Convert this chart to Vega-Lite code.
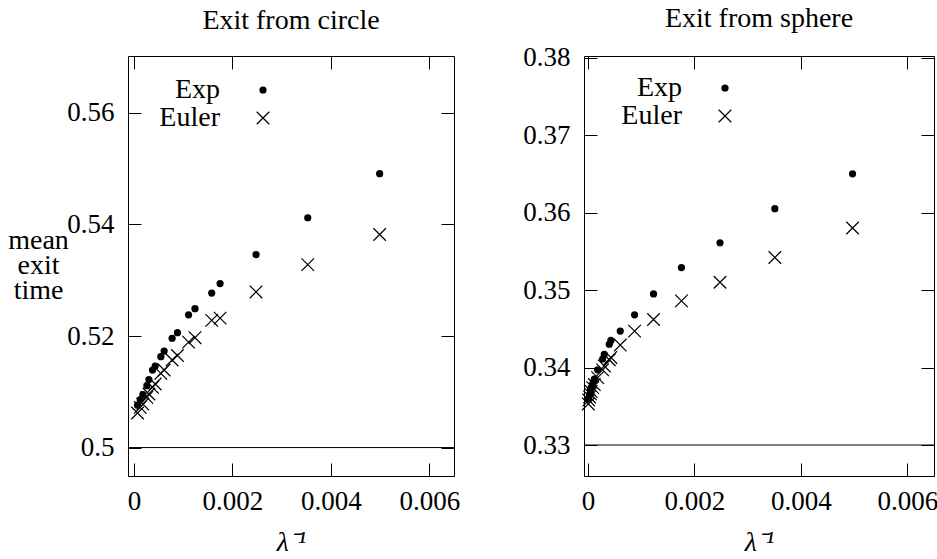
{
  "$schema": "https://vega.github.io/schema/vega-lite/v6.json",
  "background": "white",
  "padding": {"left": 7, "top": 4, "right": 0, "bottom": 0},
  "bounds": "flush",
  "spacing": 130,
  "config": {
    "font": "Liberation Serif",
    "view": {"stroke": "black", "strokeWidth": 1},
    "axis": {
      "domain": false, "grid": false, "ticks": true, "tickSize": -13,
      "tickColor": "black", "tickWidth": 1,
      "labelFont": "Liberation Serif", "labelFontSize": 27, "labelColor": "black",
      "labelPadding": 27,
      "titleFont": "Liberation Serif", "titleFontSize": 28, "titleColor": "black",
      "titleFontWeight": "normal"
    },
    "legend": {
      "orient": "none", "title": null,
      "labelFont": "Liberation Serif", "labelFontSize": 28, "labelColor": "black",
      "labelAlign": "right", "labelOffset": -57,
      "symbolSize": 52, "symbolFillColor": "black", "symbolStrokeWidth": 0,
      "rowPadding": -1, "padding": 0
    },
    "title": {"font": "Liberation Serif", "fontSize": 28, "fontWeight": "normal", "color": "black", "frame": "group"}
  },
  "datasets": {
    "circle": [
      {"x": 0.00499, "t": 0.5491, "method": "Exp"},
      {"x": 0.00353, "t": 0.5412, "method": "Exp"},
      {"x": 0.00248, "t": 0.5346, "method": "Exp"},
      {"x": 0.00175, "t": 0.5294, "method": "Exp"},
      {"x": 0.00158, "t": 0.5277, "method": "Exp"},
      {"x": 0.00124, "t": 0.5249, "method": "Exp"},
      {"x": 0.00111, "t": 0.5238, "method": "Exp"},
      {"x": 0.000884, "t": 0.5206, "method": "Exp"},
      {"x": 0.000776, "t": 0.5196, "method": "Exp"},
      {"x": 0.000614, "t": 0.5173, "method": "Exp"},
      {"x": 0.000547, "t": 0.5163, "method": "Exp"},
      {"x": 0.000432, "t": 0.5146, "method": "Exp"},
      {"x": 0.000378, "t": 0.5139, "method": "Exp"},
      {"x": 0.000304, "t": 0.5122, "method": "Exp"},
      {"x": 0.000263, "t": 0.5111, "method": "Exp"},
      {"x": 0.000182, "t": 0.5095, "method": "Exp"},
      {"x": 0.000128, "t": 0.5086, "method": "Exp"},
      {"x": 0.000074, "t": 0.5076, "method": "Exp"},
      {"x": 0.00499, "t": 0.5382, "method": "Euler"},
      {"x": 0.00353, "t": 0.5328, "method": "Euler"},
      {"x": 0.00248, "t": 0.5279, "method": "Euler"},
      {"x": 0.00175, "t": 0.5232, "method": "Euler"},
      {"x": 0.00158, "t": 0.5228, "method": "Euler"},
      {"x": 0.00124, "t": 0.5197, "method": "Euler"},
      {"x": 0.00111, "t": 0.5189, "method": "Euler"},
      {"x": 0.000884, "t": 0.5165, "method": "Euler"},
      {"x": 0.000776, "t": 0.5157, "method": "Euler"},
      {"x": 0.000614, "t": 0.5139, "method": "Euler"},
      {"x": 0.000547, "t": 0.5133, "method": "Euler"},
      {"x": 0.000432, "t": 0.5114, "method": "Euler"},
      {"x": 0.000378, "t": 0.5108, "method": "Euler"},
      {"x": 0.000304, "t": 0.5096, "method": "Euler"},
      {"x": 0.000263, "t": 0.5090, "method": "Euler"},
      {"x": 0.000182, "t": 0.5078, "method": "Euler"},
      {"x": 0.000128, "t": 0.5072, "method": "Euler"},
      {"x": 0.000074, "t": 0.5062, "method": "Euler"}
    ],
    "sphere": [
      {"x": 0.00497, "t": 0.3650, "method": "Exp"},
      {"x": 0.00351, "t": 0.3605, "method": "Exp"},
      {"x": 0.00248, "t": 0.3561, "method": "Exp"},
      {"x": 0.001756, "t": 0.3529, "method": "Exp"},
      {"x": 0.001231, "t": 0.3495, "method": "Exp"},
      {"x": 0.000875, "t": 0.3468, "method": "Exp"},
      {"x": 0.000606, "t": 0.3447, "method": "Exp"},
      {"x": 0.00043, "t": 0.3435, "method": "Exp"},
      {"x": 0.0004, "t": 0.3430, "method": "Exp"},
      {"x": 0.000306, "t": 0.3417, "method": "Exp"},
      {"x": 0.000275, "t": 0.3411, "method": "Exp"},
      {"x": 0.000181, "t": 0.3397, "method": "Exp"},
      {"x": 0.000119, "t": 0.3385, "method": "Exp"},
      {"x": 0.000088, "t": 0.3379, "method": "Exp"},
      {"x": 0.00006, "t": 0.3374, "method": "Exp"},
      {"x": 0.000044, "t": 0.3370, "method": "Exp"},
      {"x": 0.00003, "t": 0.3365, "method": "Exp"},
      {"x": 0.000015, "t": 0.3361, "method": "Exp"},
      {"x": 0.000006, "t": 0.3359, "method": "Exp"},
      {"x": 0.00497, "t": 0.3580, "method": "Euler"},
      {"x": 0.00351, "t": 0.3542, "method": "Euler"},
      {"x": 0.00248, "t": 0.3510, "method": "Euler"},
      {"x": 0.001756, "t": 0.3486, "method": "Euler"},
      {"x": 0.001231, "t": 0.3462, "method": "Euler"},
      {"x": 0.000875, "t": 0.3447, "method": "Euler"},
      {"x": 0.000606, "t": 0.3429, "method": "Euler"},
      {"x": 0.00043, "t": 0.3413, "method": "Euler"},
      {"x": 0.0004, "t": 0.3410, "method": "Euler"},
      {"x": 0.000306, "t": 0.3402, "method": "Euler"},
      {"x": 0.000275, "t": 0.3397, "method": "Euler"},
      {"x": 0.000181, "t": 0.3387, "method": "Euler"},
      {"x": 0.000119, "t": 0.3378, "method": "Euler"},
      {"x": 0.000088, "t": 0.3374, "method": "Euler"},
      {"x": 0.00006, "t": 0.3369, "method": "Euler"},
      {"x": 0.000044, "t": 0.3366, "method": "Euler"},
      {"x": 0.00003, "t": 0.3362, "method": "Euler"},
      {"x": 0.000015, "t": 0.3358, "method": "Euler"},
      {"x": 0.000006, "t": 0.3353, "method": "Euler"}
    ],
    "circleLimit": [{"limit": 0.5}],
    "sphereLimit": [{"limit": 0.33}]
  },
  "hconcat": [
    {
      "title": {"text": "Exit from circle", "offset": 21},
      "width": 326,
      "height": 420,
      "layer": [
        {
          "data": {"name": "circleLimit"},
          "mark": {"type": "rule", "color": "black", "strokeWidth": 1},
          "encoding": {
            "x": {"datum": -0.00012, "type": "quantitative", "axis": {"orient": "top", "labels": false, "title": null, "values": [0, 0.002, 0.004, 0.006]}},
            "x2": {"datum": 0.0065},
            "y": {"field": "limit", "type": "quantitative", "axis": {"orient": "right", "labels": false, "title": null, "values": [0.5, 0.52, 0.54, 0.56]}}
          }
        },
        {
          "data": {"name": "circle"},
          "mark": {"type": "point", "filled": true, "fill": "black", "strokeWidth": 0, "opacity": 1, "size": 52},
          "encoding": {
            "x": {
              "field": "x", "type": "quantitative",
              "scale": {"domain": [-0.00012, 0.0065], "nice": false, "zero": false},
              "axis": {"orient": "bottom", "values": [0, 0.002, 0.004, 0.006], "format": ".3~f", "labelPadding": 25, "title": "λ⁻¹", "titleFontStyle": "italic", "titlePadding": 14}
            },
            "y": {
              "field": "t", "type": "quantitative",
              "scale": {"domain": [0.4949, 0.5702], "nice": false, "zero": false},
              "axis": {
                "orient": "left", "values": [0.5, 0.52, 0.54, 0.56], "format": ".2~f",
                "title": ["mean", "exit", "time"], "titleAngle": 0, "titleAlign": "center",
                "titleBaseline": "middle", "titleLineHeight": 25, "titleX": -90, "titleY": 184
              }
            },
            "shape": {
              "field": "method", "type": "nominal",
              "scale": {"domain": ["Exp", "Euler"], "range": ["circle", "M1.62,1.86L1.86,1.62L-1.62,-1.86L-1.86,-1.62ZM-1.62,1.86L1.86,-1.62L1.62,-1.86L-1.86,1.62Z"]},
              "legend": {"legendX": 121, "legendY": 20}
            }
          }
        }
      ],
      "resolve": {"axis": {"x": "independent", "y": "independent"}}
    },
    {
      "title": {"text": "Exit from sphere", "offset": 11},
      "width": 350,
      "height": 420,
      "layer": [
        {
          "data": {"name": "sphereLimit"},
          "mark": {"type": "rule", "color": "black", "strokeWidth": 1},
          "encoding": {
            "x": {"datum": -0.000075, "type": "quantitative", "axis": {"orient": "top", "labels": false, "title": null, "values": [0, 0.002, 0.004, 0.006]}},
            "x2": {"datum": 0.0065},
            "y": {"field": "limit", "type": "quantitative", "axis": {"orient": "right", "labels": false, "title": null, "values": [0.33, 0.34, 0.35, 0.36, 0.37, 0.38]}}
          }
        },
        {
          "data": {"name": "sphere"},
          "mark": {"type": "point", "filled": true, "fill": "black", "strokeWidth": 0, "opacity": 1, "size": 52},
          "encoding": {
            "x": {
              "field": "x", "type": "quantitative",
              "scale": {"domain": [-0.000075, 0.0065], "nice": false, "zero": false},
              "axis": {"orient": "bottom", "values": [0, 0.002, 0.004, 0.006], "format": ".3~f", "labelPadding": 25, "title": "λ⁻¹", "titleFontStyle": "italic", "titlePadding": 14}
            },
            "y": {
              "field": "t", "type": "quantitative",
              "scale": {"domain": [0.326, 0.3802], "nice": false, "zero": false},
              "axis": {"orient": "left", "values": [0.33, 0.34, 0.35, 0.36, 0.37, 0.38], "format": ".2f", "title": null}
            },
            "shape": {
              "field": "method", "type": "nominal",
              "scale": {"domain": ["Exp", "Euler"], "range": ["circle", "M1.62,1.86L1.86,1.62L-1.62,-1.86L-1.86,-1.62ZM-1.62,1.86L1.86,-1.62L1.62,-1.86L-1.86,1.62Z"]},
              "legend": {"legendX": 127, "legendY": 18}
            }
          }
        }
      ],
      "resolve": {"axis": {"x": "independent", "y": "independent"}}
    }
  ],
  "resolve": {
    "scale": {"shape": "independent"},
    "legend": {"shape": "independent"}
  }
}
